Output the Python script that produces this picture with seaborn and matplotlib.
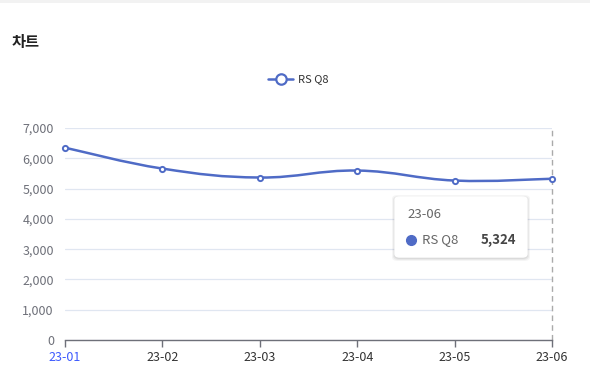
import matplotlib
matplotlib.use("Agg")
import matplotlib.pyplot as plt
from matplotlib.path import Path
from matplotlib.patches import PathPatch, FancyBboxPatch
from matplotlib.lines import Line2D
from matplotlib.ticker import FuncFormatter
import seaborn as sns
import pandas as pd

months = ["23-01", "23-02", "23-03", "23-04", "23-05", "23-06"]
values = [6350, 5660, 5365, 5595, 5265, 5324]
series_name = "RS Q8"
chart_title = "차트"

df = pd.DataFrame({"month": months, "value": values})

sns.set_theme(style="white")
plt.rcParams["font.family"] = ["Noto Sans CJK KR", "DejaVu Sans"]

blue = "#4f6bc6"
grid_c = "#e0e6f1"
axis_c = "#6e7079"

W, H = 590, 386
fig = plt.figure(figsize=(W / 100, H / 100), dpi=100)
fig.patch.set_facecolor("white")
ax = fig.add_axes([65 / W, (H - 340) / H, 487 / W, 212 / H])

# smooth line (echarts-like bezier through the data points)
xs = list(range(len(values)))
verts = [(xs[0], values[0])]
codes = [Path.MOVETO]
k = 0.2
for i in range(len(xs) - 1):
    p0 = (xs[max(i - 1, 0)], values[max(i - 1, 0)])
    p1 = (xs[i], values[i])
    p2 = (xs[i + 1], values[i + 1])
    p3 = (xs[min(i + 2, len(xs) - 1)], values[min(i + 2, len(xs) - 1)])
    c1 = (p1[0] + k * (p2[0] - p0[0]), p1[1] + k * (p2[1] - p0[1]))
    c2 = (p2[0] - k * (p3[0] - p1[0]), p2[1] - k * (p3[1] - p1[1]))
    verts += [c1, c2, p2]
    codes += [Path.CURVE4] * 3
ax.add_patch(PathPatch(Path(verts, codes), facecolor="none", edgecolor=blue, lw=1.8, zorder=3))

sns.scatterplot(data=df, x="month", y="value", ax=ax, s=14, color="white",
                edgecolor=blue, linewidth=1.4, zorder=4, legend=False, clip_on=False)

ax.set_xlim(0, len(months) - 1)
ax.set_ylim(0, 7000)
ax.set_yticks(range(0, 7001, 1000))
ax.yaxis.set_major_formatter(FuncFormatter(lambda v, p: f"{int(v):,}"))
ax.grid(axis="y", color=grid_c, lw=0.9)
ax.set_axisbelow(True)
for s in ["top", "right", "left"]:
    ax.spines[s].set_visible(False)
ax.spines["bottom"].set_color(axis_c)
ax.spines["bottom"].set_linewidth(1.0)
ax.tick_params(axis="y", length=0, labelsize=9, labelcolor=axis_c, pad=8)
ax.tick_params(axis="x", length=5, width=1, color=axis_c, labelsize=9, labelcolor="#333333", pad=3, bottom=True, direction="out")
ax.xaxis.get_ticklabels()[0].set_color("#3d5afe")
ax.set_xlabel("")
ax.set_ylabel("")

# axis pointer
ax.axvline(len(months) - 1, color="#aaaaaa", lw=1, ls=(0, (4, 3)), zorder=2, clip_on=False)

# title
fig.text(12 / W, 1 - 42 / H, chart_title, fontsize=11, fontweight="bold", color="#222222", va="center")
# top card edge
fig.add_artist(plt.Rectangle((0, 1 - 3 / H), 1, 3 / H, transform=fig.transFigure, color="#f2f2f2", lw=0))

# legend
lx, ly = 268 / W, 1 - 79 / H
fig.add_artist(Line2D([lx, lx + 25 / W], [ly, ly], transform=fig.transFigure, color=blue, lw=1.8))
fig.add_artist(Line2D([lx + 12.5 / W], [ly], transform=fig.transFigure, marker="o", ms=7.5,
                      mfc="white", mec=blue, mew=1.6))
fig.text(lx + 30 / W, ly, series_name, fontsize=8, color="#333333", va="center")

# tooltip
bx, by, bw, bh = 395, 197, 132, 60
for i, a in enumerate([0.04, 0.05, 0.06]):
    d = 3 - i
    fig.add_artist(FancyBboxPatch(((bx - d) / W, 1 - (by + bh + d + 1) / H), (bw + 2 * d) / W, (bh + 2 * d) / H,
                                  boxstyle="round,pad=0,rounding_size=0.01", transform=fig.transFigure,
                                  facecolor="black", alpha=a, lw=0))
fig.add_artist(FancyBboxPatch((bx / W, 1 - (by + bh) / H), bw / W, bh / H,
                              boxstyle="round,pad=0,rounding_size=0.008", transform=fig.transFigure,
                              facecolor="white", edgecolor="white", lw=1))
fig.text(407 / W, 1 - 215 / H, months[-1], fontsize=9.5, color="#666666", va="center")
fig.add_artist(Line2D([411 / W], [1 - 240 / H], transform=fig.transFigure, marker="o", ms=7,
                      mfc=blue, mec=blue))
fig.text(422 / W, 1 - 240 / H, series_name, fontsize=9.5, color="#666666", va="center")
fig.text(516 / W, 1 - 240 / H, f"{values[-1]:,}", fontsize=9.5, color="#464646", fontweight="bold",
         va="center", ha="right")

fig.savefig("out.png", dpi=100)
